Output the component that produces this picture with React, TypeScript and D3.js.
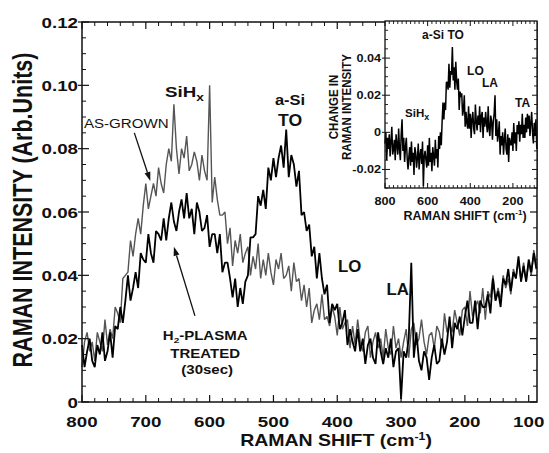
import React from "react";
import * as d3 from "d3";

// Raman shift sampling (cm-1), 800 -> 88 every 4
const shift: number[] = d3.range(800, 87, -4);

// AS-GROWN spectrum
const asGrown: number[] = [
  0.011, 0.019, 0.022, 0.016, 0.019, 0.013, 0.022, 0.019, 0.016, 0.026,
  0.018, 0.023, 0.020, 0.030, 0.028, 0.025, 0.039, 0.040, 0.041, 0.051,
  0.046, 0.053, 0.058, 0.053, 0.062, 0.069, 0.061, 0.065, 0.069, 0.065,
  0.074, 0.069, 0.066, 0.075, 0.080, 0.076, 0.094, 0.080, 0.072, 0.080,
  0.077, 0.084, 0.073, 0.075, 0.079, 0.076, 0.070, 0.078, 0.073, 0.070,
  0.100, 0.063, 0.071, 0.064, 0.059, 0.059, 0.060, 0.050, 0.055, 0.043,
  0.051, 0.047, 0.053, 0.044, 0.047, 0.049, 0.040, 0.046, 0.042, 0.050,
  0.039, 0.045, 0.040, 0.047, 0.041, 0.037, 0.045, 0.042, 0.047, 0.039,
  0.040, 0.043, 0.035, 0.044, 0.038, 0.039, 0.032, 0.037, 0.030, 0.036,
  0.025, 0.029, 0.031, 0.026, 0.034, 0.026, 0.027, 0.024, 0.030, 0.027,
  0.021, 0.030, 0.023, 0.025, 0.026, 0.017, 0.024, 0.018, 0.026, 0.019,
  0.016, 0.022, 0.024, 0.014, 0.019, 0.022, 0.017, 0.020, 0.014, 0.023,
  0.017, 0.015, 0.024, 0.017, 0.020, 0.014, 0.019, 0.023, 0.014, 0.023,
  0.025, 0.018, 0.020, 0.026, 0.019, 0.015, 0.021, 0.022, 0.017, 0.024,
  0.022, 0.017, 0.028, 0.022, 0.025, 0.022, 0.029, 0.025, 0.021, 0.029,
  0.030, 0.024, 0.035, 0.027, 0.030, 0.032, 0.028, 0.036, 0.026, 0.035,
  0.033, 0.040, 0.032, 0.036, 0.032, 0.040, 0.036, 0.039, 0.034, 0.042,
  0.039, 0.045, 0.038, 0.044, 0.038, 0.044, 0.040, 0.048, 0.043,
];

// H2-PLASMA TREATED (30sec) spectrum
const treated: number[] = [
  0.018, 0.011, 0.016, 0.020, 0.013, 0.011, 0.018, 0.015, 0.022, 0.013,
  0.016, 0.022, 0.014, 0.024, 0.023, 0.030, 0.025, 0.032, 0.040, 0.032,
  0.036, 0.041, 0.036, 0.047, 0.045, 0.044, 0.053, 0.047, 0.044, 0.054,
  0.053, 0.051, 0.058, 0.051, 0.058, 0.063, 0.057, 0.054, 0.060, 0.064,
  0.058, 0.066, 0.058, 0.061, 0.053, 0.063, 0.060, 0.054, 0.055, 0.059,
  0.049, 0.053, 0.053, 0.047, 0.053, 0.041, 0.044, 0.044, 0.039, 0.033,
  0.039, 0.030, 0.036, 0.031, 0.038, 0.040, 0.052, 0.052, 0.053, 0.065,
  0.062, 0.067, 0.061, 0.074, 0.070, 0.077, 0.071, 0.077, 0.081, 0.074,
  0.086, 0.071, 0.078, 0.075, 0.068, 0.073, 0.059, 0.060, 0.054, 0.056,
  0.046, 0.049, 0.039, 0.047, 0.039, 0.034, 0.037, 0.025, 0.031, 0.029,
  0.031, 0.023, 0.025, 0.029, 0.018, 0.023, 0.019, 0.016, 0.023, 0.016,
  0.020, 0.012, 0.018, 0.020, 0.014, 0.012, 0.022, 0.016, 0.012, 0.017,
  0.014, 0.020, 0.011, 0.016, 0.017, 0.001, 0.016, 0.014, 0.020, 0.044,
  0.014, 0.022, 0.013, 0.010, 0.016, 0.014, 0.007, 0.014, 0.018, 0.012,
  0.013, 0.020, 0.015, 0.019, 0.027, 0.017, 0.025, 0.023, 0.027, 0.021,
  0.027, 0.032, 0.025, 0.025, 0.032, 0.023, 0.032, 0.030, 0.030, 0.034,
  0.028, 0.039, 0.032, 0.035, 0.030, 0.039, 0.037, 0.042, 0.035, 0.041,
  0.039, 0.046, 0.038, 0.043, 0.038, 0.045, 0.041, 0.047, 0.042,
];

// Inset: change in Raman intensity
const change: number[] = [
  -0.006, 0.000, -0.015, -0.003, -0.009, -0.001, -0.013, -0.005, 0.003, -0.012,
  -0.009, -0.004, -0.015, -0.001, -0.007, -0.012, 0.002, -0.009, -0.015, -0.001,
  0.007, -0.010, -0.003, -0.016, -0.008, -0.003, -0.014, -0.020, -0.013, -0.008,
  -0.018, -0.005, -0.016, -0.011, -0.023, -0.008, -0.011, -0.019, -0.014, -0.006,
  -0.020, -0.012, -0.009, -0.017, -0.005, -0.029, -0.013, -0.010, -0.015, -0.019,
  -0.007, -0.018, -0.003, -0.016, -0.011, -0.021, -0.008, -0.013, -0.018, -0.004,
  -0.014, -0.009, -0.019, -0.002, -0.009, 0.000, -0.007, 0.006, 0.016, 0.007,
  0.016, 0.012, 0.027, 0.027, 0.023, 0.037, 0.024, 0.033, 0.031, 0.046,
  0.028, 0.035, 0.023, 0.038, 0.028, 0.023, 0.029, 0.012, 0.022, 0.019,
  0.021, 0.009, 0.012, 0.020, 0.003, 0.011, 0.005, 0.002, 0.014, 0.002,
  0.010, -0.003, 0.007, 0.011, 0.002, -0.001, 0.015, 0.006, 0.001, 0.009,
  0.004, 0.014, 0.000, 0.009, 0.011, -0.003, 0.008, 0.003, 0.011, 0.005,
  0.000, 0.014, 0.002, -0.002, 0.009, 0.006, -0.004, 0.006, 0.010, 0.020,
  -0.002, 0.007, -0.005, -0.001, 0.006, -0.012, -0.002, -0.007, 0.000, -0.012,
  -0.004, 0.002, -0.009, -0.012, -0.001, -0.016, -0.003, -0.006, -0.007, 0.000,
  -0.010, 0.005, -0.006, 0.000, -0.010, 0.004, -0.001, 0.006, -0.005, 0.004,
  -0.001, 0.010, -0.003, 0.004, -0.003, 0.008, 0.000, 0.010, 0.002, 0.009,
  -0.002, 0.005, 0.011, 0.000, -0.006, 0.005, -0.002, 0.007, -0.009,
];

const xTicks = [800, 700, 600, 500, 400, 300, 200, 100];
const yTicks = [0, 0.02, 0.04, 0.06, 0.08, 0.1, 0.12];
const yTickLabels = ["0", "0.02", "0.04", "0.06", "0.08", "0.10", "0.12"];
const insetXTicks = [800, 600, 400, 200];
const insetYTicks = [-0.02, 0, 0.02, 0.04];
const insetYTickLabels = ["-0.02", "0", "0.02", "0.04"];

const FONT = "'Liberation Sans', Arial, Helvetica, sans-serif";

type TProps = {
  x: number; y: number; size: number; anchor?: string; sx?: number;
  weight?: string | number; rotate?: number; children: React.ReactNode; fill?: string;
};
function T({ x, y, size, anchor = "start", sx = 1.25, weight = "bold", rotate, children, fill = "#111" }: TProps) {
  return (
    <text
      transform={`translate(${x},${y}) scale(${sx},1)${rotate ? ` rotate(${rotate})` : ""}`}
      fontSize={size}
      fontWeight={weight}
      textAnchor={anchor}
      fontFamily={FONT}
      fill={fill}
    >
      {children}
    </text>
  );
}

function Arrow({ x1, y1, x2, y2 }: { x1: number; y1: number; x2: number; y2: number }) {
  const a = Math.atan2(y2 - y1, x2 - x1);
  const L = 9, W = 3;
  const bx = x2 - L * Math.cos(a), by = y2 - L * Math.sin(a);
  const p1 = [bx + W * Math.sin(a), by - W * Math.cos(a)];
  const p2 = [bx - W * Math.sin(a), by + W * Math.cos(a)];
  return (
    <g>
      <line x1={x1} y1={y1} x2={bx} y2={by} stroke="#111" strokeWidth={1.3} />
      <polygon points={`${x2},${y2} ${p1[0]},${p1[1]} ${p2[0]},${p2[1]}`} fill="#111" />
    </g>
  );
}

export default function App() {
  const W = 549, H = 453;
  const L = 82, R = 537, TOP = 22, B = 402;
  const x = d3.scaleLinear().domain([800, 87]).range([L, R]);
  const y = d3.scaleLinear().domain([0, 0.12]).range([B, TOP]);

  const iL = 385, iR = 537, iT = 21, iB = 188;
  const xi = d3.scaleLinear().domain([800, 87]).range([iL, iR]);
  const yi = d3.scaleLinear().domain([-0.03, 0.06]).range([iB, iT]);

  const lineMain = d3.line<number>().x((_, i) => x(shift[i])).y((d) => y(d));
  const lineInset = d3.line<number>().x((_, i) => xi(shift[i])).y((d) => yi(d));

  const xMinor = d3.range(800, 90, -20).filter((v) => v % 100 !== 0);
  const yMinor = d3.range(0, 0.1201, 0.005).filter((v) => Math.abs(v / 0.02 - Math.round(v / 0.02)) > 1e-6);
  const xiMinor = d3.range(800, 90, -20).filter((v) => v % 200 !== 0);
  const yiMinor = d3.range(-0.03, 0.0601, 0.005).filter((v) => Math.abs(v / 0.02 - Math.round(v / 0.02)) > 1e-6);

  return (
    <svg width={W} height={H} style={{ display: "block", position: "absolute", left: 0, top: 0 }}>
      <rect x={0} y={0} width={W} height={H} fill="#fff" />
      {/* data */}
      <path d={lineMain(asGrown) || ""} fill="none" stroke="#555" strokeWidth={1.4} strokeLinejoin="bevel" />
      <path d={lineMain(treated) || ""} fill="none" stroke="#000" strokeWidth={1.8} strokeLinejoin="bevel" />

      {/* frame */}
      <rect x={L} y={TOP} width={R - L} height={B - TOP} fill="none" stroke="#111" strokeWidth={1.5} />
      {xTicks.map((v) => (
        <g key={"xt" + v}>
          <line x1={x(v)} x2={x(v)} y1={B} y2={B - 7} stroke="#111" strokeWidth={1.2} />
          <line x1={x(v)} x2={x(v)} y1={TOP} y2={TOP + 7} stroke="#111" strokeWidth={1.2} />
          <T x={x(v)} y={427} size={15} anchor="middle">{v}</T>
        </g>
      ))}
      {xMinor.map((v) => (
        <g key={"xm" + v}>
          <line x1={x(v)} x2={x(v)} y1={B} y2={B - 4} stroke="#111" strokeWidth={1} />
          <line x1={x(v)} x2={x(v)} y1={TOP} y2={TOP + 4} stroke="#111" strokeWidth={1} />
        </g>
      ))}
      {yTicks.map((v, i) => (
        <g key={"yt" + v}>
          <line x1={L - 4} x2={L + 7} y1={y(v)} y2={y(v)} stroke="#111" strokeWidth={1.2} />
          <line x1={R} x2={R - 7} y1={y(v)} y2={y(v)} stroke="#111" strokeWidth={1.2} />
          <T x={78} y={y(v) + 5.5} size={15} anchor="end">{yTickLabels[i]}</T>
        </g>
      ))}
      {yMinor.map((v) => (
        <g key={"ym" + v}>
          <line x1={L} x2={L + 4} y1={y(v)} y2={y(v)} stroke="#111" strokeWidth={1} />
          <line x1={R} x2={R - 4} y1={y(v)} y2={y(v)} stroke="#111" strokeWidth={1} />
        </g>
      ))}

      {/* axis titles */}
      <T x={336} y={446} size={16} anchor="middle" sx={1.22}>
        RAMAN SHIFT (cm<tspan fontSize={10} dy={-6}>-1</tspan><tspan dy={6}>)</tspan>
      </T>
      <T x={32} y={210} size={21.5} anchor="middle" rotate={-90}>RAMAN INTENSITY (Arb.Units)</T>

      {/* annotations main */}
      <T x={x(797)} y={y(0.0865)} size={13.5} weight="normal" sx={1.12}>AS-GROWN</T>
      <Arrow x1={x(718)} y1={y(0.085)} x2={x(693)} y2={y(0.0698)} />
      <T x={x(670)} y={y(0.0963)} size={15}>SiH<tspan fontSize={11} dy={4}>x</tspan></T>
      <T x={x(474)} y={y(0.0938)} size={15} anchor="middle" sx={1.1}>a-Si</T>
      <T x={x(474)} y={y(0.0872)} size={16} anchor="middle" sx={1.1}>TO</T>
      <T x={x(399)} y={y(0.0411)} size={16} sx={1.05}>LO</T>
      <T x={x(323)} y={y(0.0338)} size={16} sx={1.05}>LA</T>
      <T x={x(607)} y={y(0.0196)} size={12} anchor="middle">H<tspan fontSize={8} dy={3}>2</tspan><tspan dy={-3}>-PLASMA</tspan></T>
      <T x={x(607)} y={y(0.0139)} size={12} anchor="middle">TREATED</T>
      <T x={x(607) + 2} y={y(0.00884)} size={12} anchor="middle">(30sec)</T>
      <Arrow x1={x(623)} y1={y(0.0272)} x2={x(656)} y2={y(0.049)} />

      {/* inset */}
      <rect x={iL} y={iT} width={iR - iL} height={iB - iT} fill="#fff" />
      <path d={lineInset(change) || ""} fill="none" stroke="#000" strokeWidth={1.5} strokeLinejoin="bevel" />
      <rect x={iL} y={iT} width={iR - iL} height={iB - iT} fill="none" stroke="#111" strokeWidth={1.3} />
      {insetXTicks.map((v) => (
        <g key={"ixt" + v}>
          <line x1={xi(v)} x2={xi(v)} y1={iB} y2={iB - 5} stroke="#111" strokeWidth={1} />
          <line x1={xi(v)} x2={xi(v)} y1={iT} y2={iT + 5} stroke="#111" strokeWidth={1} />
          <T x={xi(v)} y={205} size={11} anchor="middle" sx={1.15}>{v}</T>
        </g>
      ))}
      {xiMinor.map((v) => (
        <g key={"ixm" + v}>
          <line x1={xi(v)} x2={xi(v)} y1={iB} y2={iB - 3} stroke="#111" strokeWidth={0.9} />
          <line x1={xi(v)} x2={xi(v)} y1={iT} y2={iT + 3} stroke="#111" strokeWidth={0.9} />
        </g>
      ))}
      {insetYTicks.map((v, i) => (
        <g key={"iyt" + v}>
          <line x1={iL - 3} x2={iL + 5} y1={yi(v)} y2={yi(v)} stroke="#111" strokeWidth={1} />
          <line x1={iR} x2={iR - 5} y1={yi(v)} y2={yi(v)} stroke="#111" strokeWidth={1} />
          <T x={381} y={yi(v) + 4} size={11} anchor="end" sx={1.15}>{insetYTickLabels[i]}</T>
        </g>
      ))}
      {yiMinor.map((v) => (
        <g key={"iym" + v}>
          <line x1={iL} x2={iL + 3} y1={yi(v)} y2={yi(v)} stroke="#111" strokeWidth={0.9} />
          <line x1={iR} x2={iR - 3} y1={yi(v)} y2={yi(v)} stroke="#111" strokeWidth={0.9} />
        </g>
      ))}
      <T x={465} y={220} size={12.5} anchor="middle" sx={1.0}>
        RAMAN SHIFT (cm<tspan fontSize={8} dy={-5}>-1</tspan><tspan dy={5}>)</tspan>
      </T>
      <T x={338} y={107} size={11.5} anchor="middle" rotate={-90} sx={1.15}>CHANGE IN</T>
      <T x={351} y={107} size={11.5} anchor="middle" rotate={-90} sx={1.15}>RAMAN INTENSITY</T>
      <T x={xi(626)} y={yi(0.0503)} size={12} sx={1.0}>a-Si TO</T>
      <T x={xi(415)} y={yi(0.0309)} size={12} sx={1.0}>LO</T>
      <T x={xi(345)} y={yi(0.0244)} size={12} sx={1.0}>LA</T>
      <T x={xi(190)} y={yi(0.0137)} size={12} sx={1.0}>TA</T>
      <T x={xi(706)} y={yi(0.0083)} size={11.5} sx={1.0}>SiH<tspan fontSize={9} dy={3}>x</tspan></T>
    </svg>
  );
}
